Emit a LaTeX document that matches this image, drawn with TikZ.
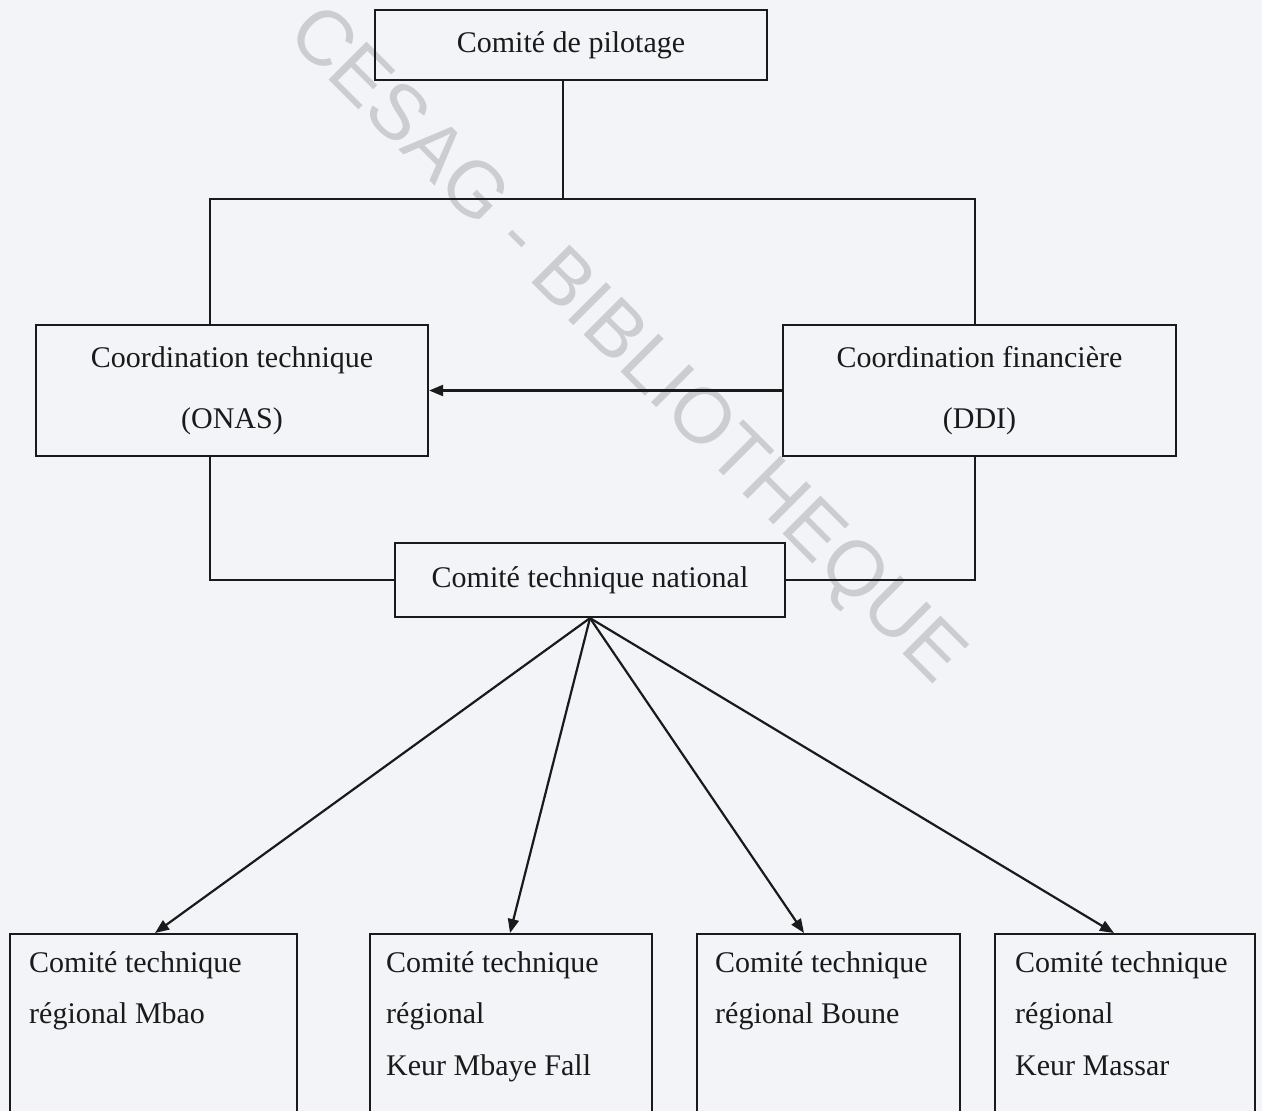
\documentclass[tikz,border=0pt]{standalone}
\usepackage{fontspec}
\setmainfont{Liberation Serif}
\newfontfamily\wmfont{Liberation Sans}
\usetikzlibrary{arrows.meta,calc}
\definecolor{paper}{HTML}{F2F4F7}
\definecolor{wmgray}{HTML}{CBCDD0}
\definecolor{ink}{HTML}{1A1A1A}
\tikzset{
  box/.style={draw=ink, line width=2.2pt, inner sep=0pt, align=center,
    font=\fontsize{30}{61}\selectfont, text=ink},
  rbox/.style={draw=ink, line width=2.2pt, inner sep=0pt, anchor=north west},
  rtext/.style={anchor=base west, inner sep=0pt, font=\fontsize{30}{36}\selectfont, text=ink},
  link/.style={draw=ink, line width=2.2pt},
  arr/.style={link, -{Triangle[length=14pt,width=11pt]}}
}
\begin{document}
\begin{tikzpicture}[x=1pt,y=-1pt]
\fill[paper] (0,0) rectangle (1262,1111);
\useasboundingbox (0,0) rectangle (1262,1111);
\clip (0,0) rectangle (1262,1111);

% watermark
\node[rotate=-45, text=wmgray, inner sep=0pt, font=\wmfont\fontsize{78}{78}\selectfont] (wm) at (624,347) {CESAG - BIBLIOTHEQUE};

% boxes
\node[box, minimum width=392, minimum height=70] (pil) at (571,45) {Comité de pilotage};
\node[box, minimum width=392, minimum height=131] (ct) at (232,390.5) {Coordination technique\\(ONAS)};
\node[box, minimum width=393, minimum height=131] (cf) at (979.5,390.5) {Coordination financière\\(DDI)};
\node[box, minimum width=390, minimum height=74] (ctn) at (590,580) {Comité technique national};

\node[rbox, minimum width=287, minimum height=220] (r1) at (9,933) {};
\node[rbox, minimum width=282, minimum height=220] (r2) at (369,933) {};
\node[rbox, minimum width=263, minimum height=220] (r3) at (696,933) {};
\node[rbox, minimum width=260, minimum height=220] (r4) at (994,933) {};

\node[rtext] (r1a) at (29,972) {Comité technique};
\node[rtext] (r1b) at (29,1023) {régional Mbao};
\node[rtext] (r2a) at (386,972) {Comité technique};
\node[rtext] (r2b) at (386,1023) {régional};
\node[rtext] (r2c) at (386,1075) {Keur Mbaye Fall};
\node[rtext] (r3a) at (715,972) {Comité technique};
\node[rtext] (r3b) at (715,1023) {régional Boune};
\node[rtext] (r4a) at (1015,972) {Comité technique};
\node[rtext] (r4b) at (1015,1023) {régional};
\node[rtext] (r4c) at (1015,1075) {Keur Massar};

% junctions
\coordinate (jt) at (563,199);
\coordinate (jl) at (210,199);
\coordinate (jr) at (975,199);

\draw[link] (pil.south -| jt) -- (jt);
\draw[link] (jl |- ct.north) -- (jl) -- (jr) -- (jr |- cf.north);
\draw[link] (jl |- ct.south) |- (ctn.west);
\draw[link] (jr |- cf.south) |- (ctn.east);
\draw[arr] (cf.west) -- (ct.east);

\coordinate (t1) at ($(r1.north west)+(146,0)$);
\coordinate (t2) at ($(r2.north west)+(141,0)$);
\coordinate (t3) at ($(r3.north west)+(108,0)$);
\coordinate (t4) at ($(r4.north west)+(120,0)$);
\draw[arr] (ctn.south) -- (t1);
\draw[arr] (ctn.south) -- (t2);
\draw[arr] (ctn.south) -- (t3);
\draw[arr] (ctn.south) -- (t4);
\end{tikzpicture}
\end{document}
